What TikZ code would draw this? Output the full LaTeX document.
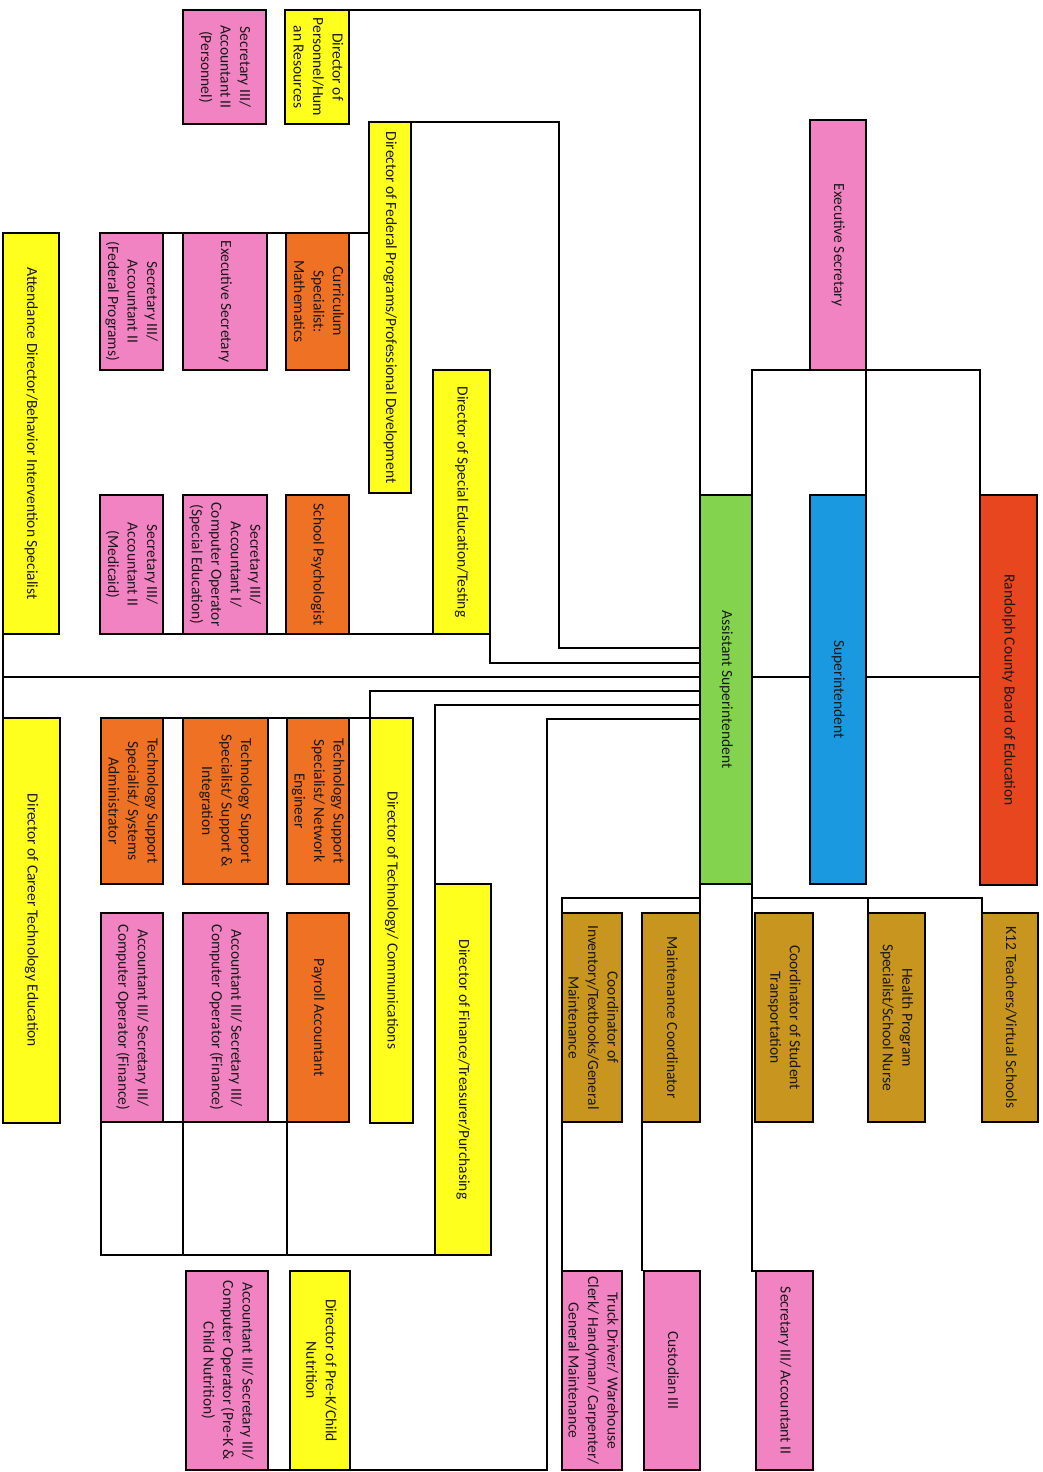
\documentclass[tikz,border=0pt]{standalone}
\usepackage{fontspec}
\setmainfont{Carlito}
\usepackage{graphicx}
\usetikzlibrary{backgrounds}
\definecolor{cpink}{HTML}{F283C3}
\definecolor{cyellow}{HTML}{FFFF1E}
\definecolor{corange}{HTML}{EE7124}
\definecolor{cgold}{HTML}{C8951E}
\definecolor{cgreen}{HTML}{83D34F}
\definecolor{cblue}{HTML}{1A98E0}
\definecolor{cred}{HTML}{E8461F}
\newcommand{\rt}[1]{\rotatebox{-90}{\begin{tabular}{@{}c@{}}#1\end{tabular}}}
\begin{document}
\begin{tikzpicture}[x=1pt,y=-1pt,
  box/.style={draw=black, line width=2.8pt, inner sep=0pt, outer sep=0pt,
    text=black!90, font=\fontsize{15.5}{19.5}\selectfont},
  sz/.style n args={2}{minimum width=#1, minimum height=#2},
  pinkbox/.style={box, fill=cpink},
  yellowbox/.style={box, fill=cyellow},
  orangebox/.style={box, fill=corange},
  goldbox/.style={box, fill=cgold},
  link/.style={draw=black, line width=2.6pt}]
\useasboundingbox (0,0) rectangle (1042,1472);

\coordinate (yFed) at (0,648);
\coordinate (ySped) at (0,663);
\coordinate (yMain) at (0,677);
\coordinate (yTech) at (0,691);
\coordinate (yFin) at (0,705);
\coordinate (yPre) at (0,719);
\coordinate (yGold) at (0,898);
\coordinate (xFedBus) at (559,0);
\coordinate (xPreBus) at (547,0);

% ---------- boxes ----------
\node[pinkbox, sz={83}{114}] (persSec) at (224.5,67) {\rt{Secretary III/\\Accountant II\\(Personnel)}};
\node[yellowbox, sz={64}{114}] (dirPers) at (317,67) {\rt{Director of\\Personnel/Hum\\an Resources}};
\node[yellowbox, sz={42}{371}] (dirFed) at (390,307.5) {\rt{Director of Federal Programs/Professional Development}};
\node[yellowbox, sz={56}{401}] (attend) at (31,433.5) {\rt{Attendance Director/Behavior Intervention Specialist}};
\node[pinkbox, sz={63}{137}] (fedSec) at (131.5,301.5) {\rt{Secretary III/\\Accountant II\\(Federal Programs)}};
\node[pinkbox, sz={84}{137}] (fedExec) at (225,301.5) {\rt{Executive Secretary}};
\node[orangebox, sz={63}{137}] (curr) at (317.5,301.5) {\rt{Curriculum\\Specialist:\\Mathematics}};
\node[yellowbox, sz={57}{264}] (dirSped) at (461.5,502) {\rt{Director of Special Education/Testing}};
\node[pinkbox, sz={63}{139}] (medSec) at (131.5,564.5) {\rt{Secretary III/\\Accountant II\\(Medicaid)}};
\node[pinkbox, sz={84}{139}] (spedSec) at (225,564.5) {\rt{Secretary III/\\Accountant I/\\Computer Operator\\(Special Education)}};
\node[orangebox, sz={63}{139}] (psych) at (317.5,564.5) {\rt{School Psychologist}};
\node[yellowbox, sz={57}{405}] (career) at (31.5,920.5) {\rt{Director of Career Technology Education}};
\node[orangebox, sz={62}{166}] (techSys) at (132,801) {\rt{Technology Support\\Specialist/ Systems\\Administrator}};
\node[orangebox, sz={85}{166}] (techInt) at (225.5,801) {\rt{Technology Support\\Specialist/ Support \&\\Integration}};
\node[orangebox, sz={62}{166}] (techNet) at (318,801) {\rt{Technology Support\\Specialist/ Network\\Engineer}};
\node[yellowbox, sz={43}{405}] (dirTech) at (391.5,920.5) {\rt{Director of Technology/ Communications}};
\node[pinkbox, sz={62}{209}] (finAcc1) at (132,1017.5) {\rt{Accountant III/ Secretary III/\\Computer Operator (Finance)}};
\node[pinkbox, sz={85}{209}] (finAcc2) at (225.5,1017.5) {\rt{Accountant III/ Secretary III/\\Computer Operator (Finance)}};
\node[orangebox, sz={62}{209}] (payroll) at (318,1017.5) {\rt{Payroll Accountant}};
\node[yellowbox, sz={56}{371}] (dirFin) at (463,1069.5) {\rt{Director of Finance/Treasurer/Purchasing}};
\node[pinkbox, sz={82}{199}] (preSec) at (227,1370.5) {\rt{Accountant III/ Secretary III/\\Computer Operator (Pre-K \&\\Child Nutrition)}};
\node[yellowbox, sz={60}{199}] (dirPreK) at (320,1370.5) {\rt{Director of Pre-K/Child\\Nutrition}};
\node[goldbox, sz={60}{209}] (invCoord) at (592,1017.5) {\rt{Coordinator of\\Inventory/Textbooks/General\\Maintenance}};
\node[goldbox, sz={58}{209}] (maint) at (671,1017.5) {\rt{Maintenance Coordinator}};
\node[goldbox, sz={58}{209}] (trans) at (784,1017.5) {\rt{Coordinator of Student\\Transportation}};
\node[goldbox, sz={57}{209}] (health) at (896.5,1017.5) {\rt{Health Program\\Specialist/School Nurse}};
\node[goldbox, sz={56}{209}] (k12) at (1010,1017.5) {\rt{K12 Teachers/Virtual Schools}};
\node[pinkbox, sz={60}{199}] (truck) at (592,1370.5) {\rt{Truck Driver/ Warehouse\\Clerk/ Handyman/ Carpenter/\\General Maintenance}};
\node[pinkbox, sz={56}{199}] (cust) at (672,1370.5) {\rt{Custodian III}};
\node[pinkbox, sz={57}{199}] (transSec) at (784.5,1370.5) {\rt{Secretary III/ Accountant II}};
\node[box, fill=cgreen, sz={52}{389}] (asst) at (726,689.5) {\rt{Assistant Superintendent}};
\node[box, fill=cblue, sz={56}{389}] (supt) at (838,689.5) {\rt{Superintendent}};
\node[box, fill=cred, sz={57}{390}] (board) at (1008.5,690) {\rt{Randolph County Board of Education}};
\node[pinkbox, sz={56}{250}] (execSec) at (838,245) {\rt{Executive Secretary}};

% ---------- connectors, behind the boxes ----------
\begin{pgfonlayer}{background}
\fill[white] (0,0) rectangle (1042,1472);
\draw[link] (dirPers.north east) -| (asst.north west);
\draw[link] (dirFed.north east) -| (xFedBus |- yFed) -- (asst.west |- yFed);
\draw[link] (dirSped.south east) |- (asst.west |- ySped);
\draw[link] (attend.south west) -- (career.north west);
\draw[link] (attend.south west |- yMain) -- (asst.west |- yMain);
\draw[link] (asst.east |- yMain) -- (supt.west |- yMain);
\draw[link] (supt.east |- yMain) -- (board.west |- yMain);
\draw[link] (dirTech.north west) |- (asst.west |- yTech);
\draw[link] (dirFin.north west) |- (asst.west |- yFin);
\draw[link] (preSec.south west) -- (dirPreK.south east) -- (xPreBus |- dirPreK.south east) |- (asst.west |- yPre);
\draw[link] (fedSec.north west) -- (dirFed.west |- fedSec.north west);
\draw[link] (medSec.south west) -- (dirSped.south west);
\draw[link] (techSys.north west) -- (dirTech.north west);
\draw[link] (finAcc1.south west) -- (payroll.south east);
\draw[link] (finAcc1.south west) -- (finAcc1.south west |- dirFin.south west) -- (dirFin.south west);
\draw[link] (finAcc2.south west) -- (finAcc2.south west |- dirFin.south west);
\draw[link] (payroll.south west) -- (payroll.south west |- dirFin.south west);
\draw[link] (asst.north east) -- (asst.north east |- execSec.south) -- (board.north west |- execSec.south) -- (board.north west);
\draw[link] (supt.north east) -- (supt.north east |- execSec.south);
\draw[link] (asst.south west) -- (maint.north east);
\draw[link] (asst.south west |- yGold) -| (invCoord.north west);
\draw[link] (invCoord.south west) -- (truck.north west);
\draw[link] (maint.south west) -- (maint.south west |- cust.north);
\draw[link] (asst.south east) |- (transSec.north west);
\draw[link] (asst.south east |- yGold) -| (k12.north west);
\draw[link] (health.north west) -- (health.north west |- yGold);
\end{pgfonlayer}
\end{tikzpicture}
\end{document}
